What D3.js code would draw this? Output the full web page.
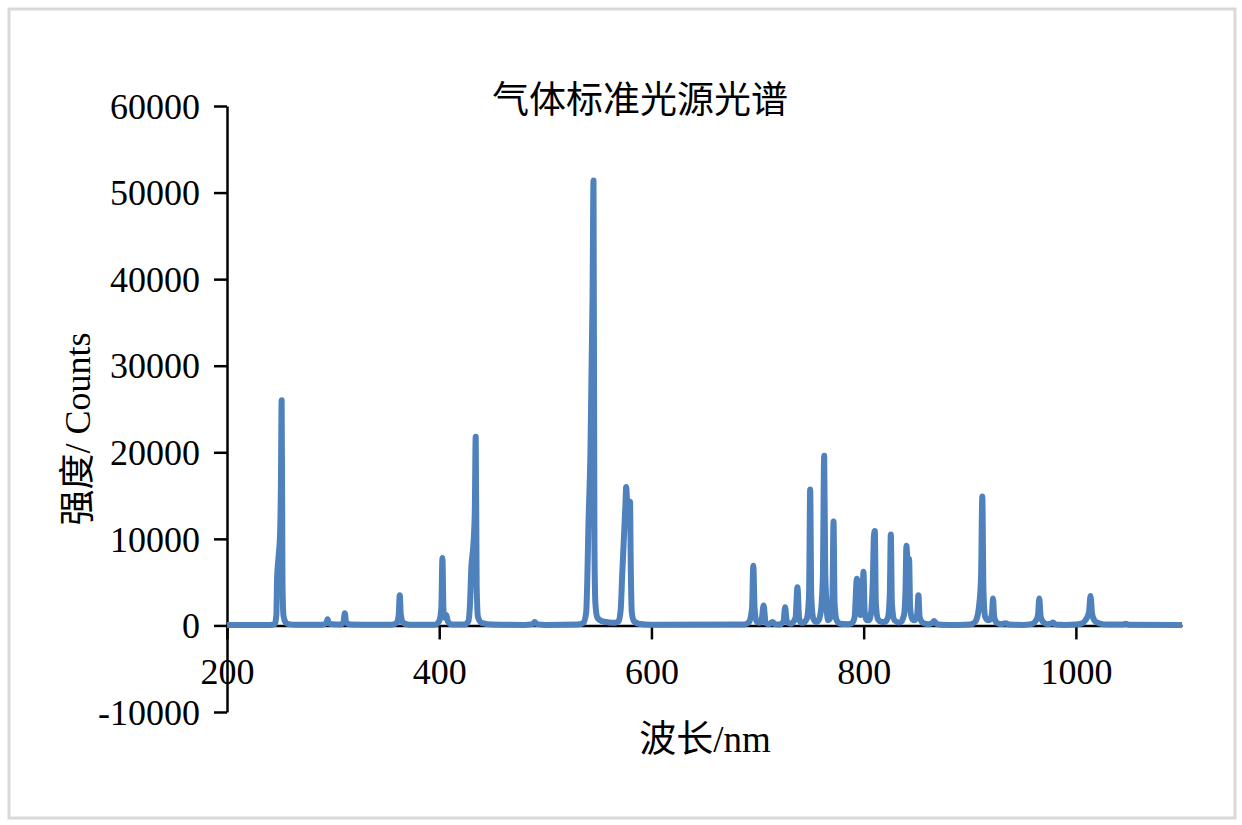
<!DOCTYPE html>
<html>
<head>
<meta charset="utf-8">
<script src="https://cdn.jsdelivr.net/npm/d3@7"></script>
<style>
  body { margin: 0; background: #fff; }
  text { font-family: "Liberation Serif", "Noto Sans CJK SC", serif; }
</style>
</head>
<body>
<div id="chart"></div>
<script>
// labels
const chartTitle = "气体标准光源光谱";
const xLabel = "波长/nm";
const yLabel = "强度/ Counts";

// tick values
const xTicks = [200, 400, 600, 800, 1000];
const yTicks = [-10000, 0, 10000, 20000, 30000, 40000, 50000, 60000];

// spectrum
const wavelength = [
    200, 240,
    245, 246.5, 247.2, 248.5, 250, 250.8, 251.5, 252.3, 253.2, 255, 258, 265,
    290, 293.5, 294.8, 296, 299,
    307, 309.8, 311, 312.2, 316,
    355, 360, 361.8, 362.8, 363.8, 366, 372,
    396, 400, 402, 403, 404, 405, 406.8, 408, 412,
    424, 427.5, 429, 430.3, 432, 433.5, 434.4, 435.3, 436.5, 440, 450,
    480, 488, 490, 492, 500,
    530, 536, 538.5, 539.5, 540.5, 542.5, 544.5, 545.4, 546.3, 547.2, 549, 553, 560, 566,
    569, 571, 572.5, 574, 575.5, 576.2, 577, 578.5, 579.8, 580.6, 581.5, 583.5, 588, 600,
    685, 688, 692, 694.8, 696, 697.2, 699, 701,
    703.5, 705.7, 707.5, 710, 712, 714, 716.5, 720,
    722, 724.5, 726, 727.5, 731, 733, 735.8, 737.6, 739.2, 741,
    743, 746.5, 748.5, 749.6, 750.6, 752.5, 755, 757, 759.5, 761.5, 762.8, 763.8,
    766.5, 769, 770.6, 771.6, 772.6, 774.5, 778, 785,
    789, 791.5, 793.6, 795.5, 797, 798.8, 799.8, 801, 803,
    805, 807, 808.8, 809.6, 810.5, 811.5, 813.5, 817,
    820, 823, 824.6, 825.6, 826.6, 829, 833,
    835, 838, 839.4, 840.3, 841.5, 842.8, 843.8, 846,
    848, 850.4, 851.6, 852.8, 856, 861, 864.5, 866.4, 868.5, 873,
    890, 900, 903, 906, 908.5, 910.6, 911.8, 912.9, 914.5, 917,
    919.5, 921, 921.9, 923, 925.5, 930, 933.8, 937, 950,
    958, 962, 964.3, 965.5, 966.8, 969, 973, 976.5, 978.4, 981, 990, 1000,
    1005, 1009, 1012.3, 1013.8, 1015.3, 1018, 1022, 1030, 1044, 1046.8, 1050, 1100
];
const counts = [
    50, 60,
    150, 1200, 5500, 7800, 10500, 16000, 26000, 5000, 1200, 400, 150, 80,
    80, 250, 700, 250, 150,
    100, 400, 1400, 400, 100,
    80, 300, 1200, 3500, 1200, 300, 80,
    80, 500, 2000, 7800, 1800, 900, 1200, 500, 100,
    100, 500, 2500, 6800, 9000, 13000, 21800, 4500, 1000, 300, 100,
    60, 150, 400, 150, 60,
    100, 300, 1500, 5000, 11000, 20000, 38000, 51400, 9000, 2500, 900, 500, 350, 300,
    500, 1800, 6000, 10000, 14000, 16000, 14500, 13000, 14300, 6000, 1500, 500, 200, 80,
    100, 120, 400, 2000, 6900, 2000, 500, 300,
    400, 2300, 400, 150, 200, 400, 150, 100,
    150, 500, 2100, 500, 200, 300, 900, 4400, 800, 300,
    300, 800, 3500, 15700, 3500, 800, 400, 500, 1500, 5500, 19600, 6000,
    600, 1000, 3500, 12000, 2500, 600, 200, 150,
    250, 1000, 5400, 1600, 1200, 2500, 6200, 1500, 600,
    600, 1500, 6000, 10200, 10900, 2500, 700, 400,
    400, 1000, 3500, 10500, 2500, 600, 350,
    400, 1200, 4000, 9200, 7000, 7700, 2000, 700,
    600, 1200, 3500, 900, 300, 150, 250, 500, 200, 80,
    60, 100, 200, 600, 2000, 5500, 14900, 4000, 1000, 600,
    700, 1500, 3100, 1000, 300, 150, 250, 100, 60,
    150, 500, 1200, 3100, 1000, 400, 150, 200, 350, 100, 50, 100,
    200, 600, 1500, 3400, 1300, 500, 250, 100, 100, 200, 80, 60
];

const W = 1242, H = 825;
const margin = { top: 106, right: 60, bottom: 113, left: 227 };
const width = W - margin.left - margin.right;
const height = H - margin.top - margin.bottom;

const svg = d3.select("#chart").append("svg")
    .attr("width", W)
    .attr("height", H);

// outer frame
svg.append("rect")
    .attr("x", 9).attr("y", 9)
    .attr("width", 1226).attr("height", 809)
    .attr("fill", "#fff")
    .attr("stroke", "#d9d9d9")
    .attr("stroke-width", 3);

const g = svg.append("g")
    .attr("transform", `translate(${margin.left},${margin.top})`);

const x = d3.scaleLinear().domain([200, 1100]).range([0, width]);
const y = d3.scaleLinear().domain([-10000, 60000]).range([height, 0]);

// x axis sits on y = 0
const xAxis = g.append("g")
    .attr("transform", `translate(0,${y(0)})`)
    .call(d3.axisBottom(x).tickValues(xTicks).tickSize(14).tickSizeOuter(0)
        .tickFormat(d => String(d)));
xAxis.selectAll("text")
    .attr("y", 59).attr("dy", 0)
    .style("font-size", "36px");

const yAxis = g.append("g")
    .call(d3.axisLeft(y).tickValues(yTicks).tickSize(13).tickSizeOuter(0)
        .tickFormat(d => String(d)));
yAxis.selectAll("text")
    .attr("x", -27).attr("dy", "0.34em")
    .style("font-size", "36px");

[xAxis, yAxis].forEach(a => {
    a.attr("font-family", null).attr("font-size", null);
    a.selectAll("path, line").attr("stroke", "#000").attr("stroke-width", 2.5);
    a.selectAll("text").attr("fill", "#000");
});

// spectrum line
const pts = wavelength.map((w, i) => [w, counts[i]]);
g.append("path")
    .datum(pts)
    .attr("fill", "none")
    .attr("stroke", "#4f81bd")
    .attr("stroke-width", 6)
    .attr("stroke-linejoin", "round")
    .attr("stroke-linecap", "butt")
    .attr("d", d3.line()
        .curve(d3.curveMonotoneX)
        .x(d => x(d[0]))
        .y(d => y(d[1])));

// title and axis labels
svg.append("text")
    .attr("x", 640).attr("y", 113)
    .attr("text-anchor", "middle")
    .style("font-size", "37px")
    .text(chartTitle);

svg.append("text")
    .attr("x", 705).attr("y", 752)
    .attr("text-anchor", "middle")
    .style("font-size", "37px")
    .text(xLabel);

svg.append("text")
    .attr("transform", "translate(90,429) rotate(-90)")
    .attr("text-anchor", "middle")
    .style("font-size", "36px")
    .text(yLabel);
</script>
</body>
</html>
